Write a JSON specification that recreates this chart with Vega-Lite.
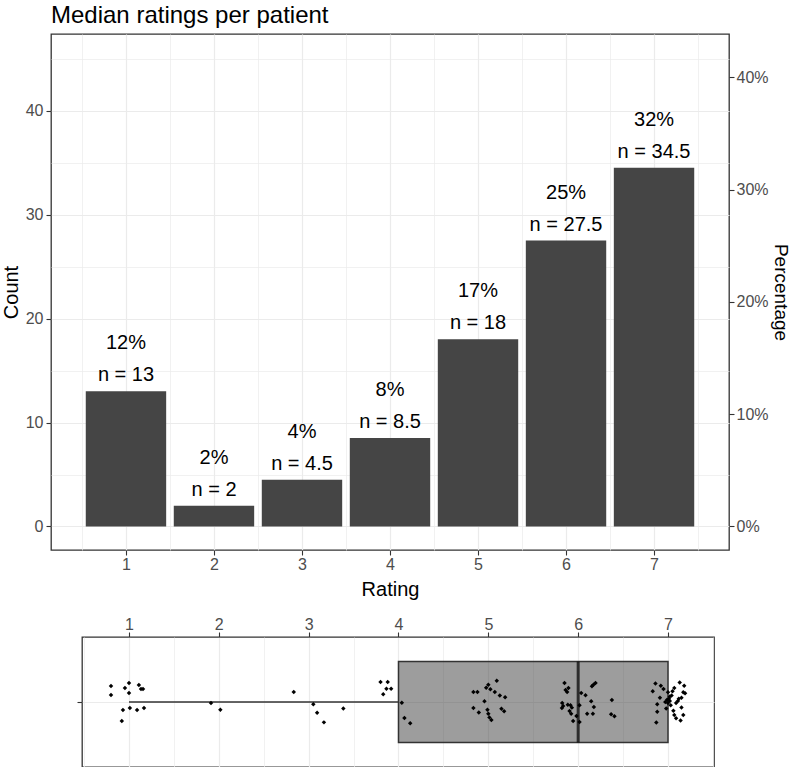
{
  "$schema": "https://vega.github.io/schema/vega-lite/v6.json",
  "padding": {"left": 0, "top": 3, "right": 0, "bottom": 0},
  "background": "white",
  "spacing": 15,
  "config": {
    "font": "Liberation Sans",
    "view": {"stroke": "#333333", "strokeWidth": 1.3},
    "axis": {
      "domain": false, "tickColor": "#333333", "tickSize": 5, "tickWidth": 1.1,
      "labelColor": "#4d4d4d", "labelFontSize": 16, "labelFont": "Liberation Sans",
      "titleFont": "Liberation Sans", "titleFontSize": 20, "titleFontWeight": "normal",
      "titleColor": "black", "gridColor": "#ebebeb", "gridWidth": 1.2, "labelPadding": 3
    }
  },
  "vconcat": [
    {
      "width": 678, "height": 516,
      "title": {"text": "Median ratings per patient", "anchor": "start", "frame": "group", "fontSize": 24, "fontWeight": "normal", "font": "Liberation Sans", "color": "black", "offset": 6},
      "data": {"values": [
        {"rating": 1, "count": 13, "n_label": "n = 13", "pct_label": "12%"},
        {"rating": 2, "count": 2, "n_label": "n = 2", "pct_label": "2%"},
        {"rating": 3, "count": 4.5, "n_label": "n = 4.5", "pct_label": "4%"},
        {"rating": 4, "count": 8.5, "n_label": "n = 8.5", "pct_label": "8%"},
        {"rating": 5, "count": 18, "n_label": "n = 18", "pct_label": "17%"},
        {"rating": 6, "count": 27.5, "n_label": "n = 27.5", "pct_label": "25%"},
        {"rating": 7, "count": 34.5, "n_label": "n = 34.5", "pct_label": "32%"}
      ]},
      "layer": [
        {
          "mark": {"type": "bar", "width": 80.4, "color": "#454545"},
          "encoding": {
            "x": {"field": "rating", "type": "quantitative", "scale": {"domain": [0.205, 7.795], "nice": false, "zero": false},
                  "axis": {"values": [1, 2, 3, 4, 5, 6, 7], "title": "Rating", "grid": true, "labelPadding": 1, "titlePadding": 7}},
            "y": {"field": "count", "type": "quantitative", "scale": {"domain": [-2.26, 47.36], "nice": false, "zero": false},
                  "axis": {"orient": "left", "values": [0, 10, 20, 30, 40], "title": "Count", "grid": true, "titlePadding": 4}}
          }
        },
        {
          "mark": {"type": "text", "dy": -16, "fontSize": 20, "color": "black"},
          "encoding": {
            "text": {"field": "n_label"},
            "x": {"field": "rating", "type": "quantitative",
                  "axis": {"orient": "top", "values": [0.5, 1.5, 2.5, 3.5, 4.5, 5.5, 6.5, 7.5], "labels": false, "ticks": false, "title": null, "grid": true, "gridWidth": 0.7}},
            "y": {"field": "count", "type": "quantitative",
                  "axis": {"orient": "left", "values": [5, 15, 25, 35, 45], "labels": false, "ticks": false, "title": null, "grid": true, "gridWidth": 0.7}}
          }
        },
        {
          "mark": {"type": "text", "dy": -48, "fontSize": 20, "color": "black"},
          "encoding": {
            "text": {"field": "pct_label"},
            "x": {"field": "rating", "type": "quantitative", "axis": null},
            "y": {"field": "count", "type": "quantitative",
                  "axis": {"orient": "right", "values": [0, 10.8, 21.6, 32.4, 43.2], "labelExpr": "format(datum.value/108, '.0%')", "title": "Percentage", "titleFontSize": 19, "grid": false, "labelPadding": 2, "titlePadding": 2}}
          }
        }
      ],
      "resolve": {"axis": {"x": "independent", "y": "independent"}}
    },
    {
      "spacing": 0,
      "hconcat": [
        {
          "width": 24, "height": 130,
          "view": {"stroke": null},
          "data": {"values": [{}]},
          "mark": {"type": "point", "opacity": 0},
          "encoding": {}
        },
        {
          "width": 632, "height": 130,
          "data": {"values": [
            {"rating": 1, "xj": 0.80, "yj": 0.148}, {"rating": 1, "xj": 0.80, "yj": 0.065}, {"rating": 1, "xj": 0.955, "yj": 0.13},
            {"rating": 1, "xj": 1.0, "yj": 0.176}, {"rating": 1, "xj": 1.0, "yj": 0.083}, {"rating": 1, "xj": 1.11, "yj": 0.157},
            {"rating": 1, "xj": 1.134, "yj": 0.12}, {"rating": 1, "xj": 1.156, "yj": 0.12}, {"rating": 1, "xj": 0.933, "yj": -0.074},
            {"rating": 1, "xj": 1.01, "yj": -0.056}, {"rating": 1, "xj": 1.09, "yj": -0.074}, {"rating": 1, "xj": 1.167, "yj": -0.056},
            {"rating": 1, "xj": 0.92, "yj": -0.176},
            {"rating": 2, "xj": 1.913, "yj": -0.01}, {"rating": 2, "xj": 2.017, "yj": -0.071},
            {"rating": 3, "xj": 2.834, "yj": 0.093}, {"rating": 3, "xj": 3.052, "yj": -0.021}, {"rating": 3, "xj": 3.094, "yj": -0.099},
            {"rating": 3, "xj": 3.17, "yj": -0.188}, {"rating": 3, "xj": 3.386, "yj": -0.059},
            {"rating": 4, "xj": 3.80, "yj": 0.185}, {"rating": 4, "xj": 3.88, "yj": 0.185}, {"rating": 4, "xj": 3.866, "yj": 0.123},
            {"rating": 4, "xj": 3.918, "yj": 0.123}, {"rating": 4, "xj": 3.83, "yj": 0.071}, {"rating": 4, "xj": 4.037, "yj": -0.006},
            {"rating": 4, "xj": 4.066, "yj": -0.148}, {"rating": 4, "xj": 4.13, "yj": -0.197},
            {"rating": 5, "xj": 4.834, "yj": 0.093}, {"rating": 5, "xj": 4.879, "yj": 0.093}, {"rating": 5, "xj": 5.094, "yj": 0.197},
            {"rating": 5, "xj": 5.0, "yj": 0.16}, {"rating": 5, "xj": 4.976, "yj": 0.132}, {"rating": 5, "xj": 5.023, "yj": 0.117},
            {"rating": 5, "xj": 5.072, "yj": 0.093}, {"rating": 5, "xj": 5.128, "yj": 0.059}, {"rating": 5, "xj": 5.187, "yj": 0.043},
            {"rating": 5, "xj": 4.957, "yj": 0.006}, {"rating": 5, "xj": 4.834, "yj": -0.056}, {"rating": 5, "xj": 4.894, "yj": -0.096},
            {"rating": 5, "xj": 4.99, "yj": -0.071}, {"rating": 5, "xj": 5.0, "yj": -0.108}, {"rating": 5, "xj": 5.012, "yj": -0.142},
            {"rating": 5, "xj": 5.034, "yj": -0.167}, {"rating": 5, "xj": 5.146, "yj": -0.062}, {"rating": 5, "xj": 5.176, "yj": -0.086},
            {"rating": 6, "xj": 5.848, "yj": 0.176}, {"rating": 6, "xj": 5.892, "yj": 0.13}, {"rating": 6, "xj": 5.877, "yj": 0.093},
            {"rating": 6, "xj": 5.822, "yj": -0.009}, {"rating": 6, "xj": 5.833, "yj": -0.037}, {"rating": 6, "xj": 5.819, "yj": -0.056},
            {"rating": 6, "xj": 5.885, "yj": -0.025}, {"rating": 6, "xj": 5.915, "yj": -0.031}, {"rating": 6, "xj": 5.93, "yj": -0.052},
            {"rating": 6, "xj": 5.904, "yj": -0.083}, {"rating": 6, "xj": 5.922, "yj": -0.108}, {"rating": 6, "xj": 5.944, "yj": -0.176},
            {"rating": 6, "xj": 5.981, "yj": -0.13}, {"rating": 6, "xj": 6.015, "yj": -0.185}, {"rating": 6, "xj": 6.015, "yj": -0.031},
            {"rating": 6, "xj": 6.034, "yj": 0.083}, {"rating": 6, "xj": 6.082, "yj": 0.062}, {"rating": 6, "xj": 6.145, "yj": 0.006},
            {"rating": 6, "xj": 6.175, "yj": -0.046}, {"rating": 6, "xj": 6.1, "yj": -0.108}, {"rating": 6, "xj": 6.164, "yj": -0.108},
            {"rating": 6, "xj": 6.153, "yj": 0.145}, {"rating": 6, "xj": 6.193, "yj": 0.176}, {"rating": 6, "xj": 6.375, "yj": 0.019},
            {"rating": 6, "xj": 6.367, "yj": -0.114}, {"rating": 6, "xj": 6.404, "yj": -0.132}, {"rating": 6, "xj": 5.86, "yj": 0.11},
            {"rating": 6, "xj": 6.17, "yj": 0.16},
            {"rating": 7, "xj": 6.86, "yj": 0.17}, {"rating": 7, "xj": 6.92, "yj": 0.15}, {"rating": 7, "xj": 6.83, "yj": 0.10},
            {"rating": 7, "xj": 6.91, "yj": 0.04}, {"rating": 7, "xj": 6.88, "yj": -0.02}, {"rating": 7, "xj": 6.88, "yj": -0.09},
            {"rating": 7, "xj": 6.87, "yj": -0.19}, {"rating": 7, "xj": 6.98, "yj": -0.06}, {"rating": 7, "xj": 7.0, "yj": 0.09},
            {"rating": 7, "xj": 7.02, "yj": 0.05}, {"rating": 7, "xj": 7.02, "yj": 0.01}, {"rating": 7, "xj": 7.0, "yj": -0.01},
            {"rating": 7, "xj": 7.04, "yj": 0.06}, {"rating": 7, "xj": 7.07, "yj": 0.13}, {"rating": 7, "xj": 7.13, "yj": 0.18},
            {"rating": 7, "xj": 7.18, "yj": 0.15}, {"rating": 7, "xj": 7.17, "yj": 0.09}, {"rating": 7, "xj": 7.19, "yj": 0.08},
            {"rating": 7, "xj": 7.15, "yj": 0.04}, {"rating": 7, "xj": 7.11, "yj": 0.01}, {"rating": 7, "xj": 7.09, "yj": -0.01},
            {"rating": 7, "xj": 7.15, "yj": -0.05}, {"rating": 7, "xj": 7.07, "yj": -0.12}, {"rating": 7, "xj": 7.09, "yj": -0.15},
            {"rating": 7, "xj": 7.17, "yj": -0.12}, {"rating": 7, "xj": 7.01, "yj": 0.03}, {"rating": 7, "xj": 7.03, "yj": -0.03},
            {"rating": 7, "xj": 6.99, "yj": 0.02}, {"rating": 7, "xj": 7.05, "yj": 0.10}, {"rating": 7, "xj": 7.12, "yj": 0.03},
            {"rating": 7, "xj": 6.95, "yj": 0.12}, {"rating": 7, "xj": 7.06, "yj": -0.08}, {"rating": 7, "xj": 7.14, "yj": -0.17},
            {"rating": 7, "xj": 6.97, "yj": 0.0}
          ]},
          "layer": [
            {
              "mark": {"type": "boxplot", "extent": 1.5, "size": 81, "ticks": false, "outliers": false,
                       "box": {"fill": "#3c3c3c", "fillOpacity": 0.5, "stroke": "#333333", "strokeWidth": 1.5},
                       "median": {"color": "black", "thickness": 3},
                       "rule": {"color": "#333333", "strokeWidth": 1.5}},
              "encoding": {
                "x": {"field": "rating", "type": "quantitative", "scale": {"domain": [0.477, 7.512], "nice": false, "zero": false},
                      "axis": {"orient": "top", "values": [1, 2, 3, 4, 5, 6, 7], "title": null, "grid": true, "labelPadding": 0}}
              }
            },
            {
              "mark": {"type": "point", "shape": "diamond", "filled": true, "size": 20, "color": "black", "opacity": 1},
              "encoding": {
                "x": {"field": "xj", "type": "quantitative",
                      "axis": {"orient": "bottom", "values": [0.5, 1.5, 2.5, 3.5, 4.5, 5.5, 6.5, 7.5], "labels": false, "ticks": false, "title": null, "grid": true, "gridWidth": 0.7}},
                "y": {"field": "yj", "type": "quantitative", "scale": {"domain": [-0.6, 0.6], "nice": false, "zero": false},
                      "axis": {"values": [0], "labels": false, "title": null, "grid": true}}
              }
            }
          ],
          "resolve": {"axis": {"x": "independent"}}
        }
      ]
    }
  ]
}
